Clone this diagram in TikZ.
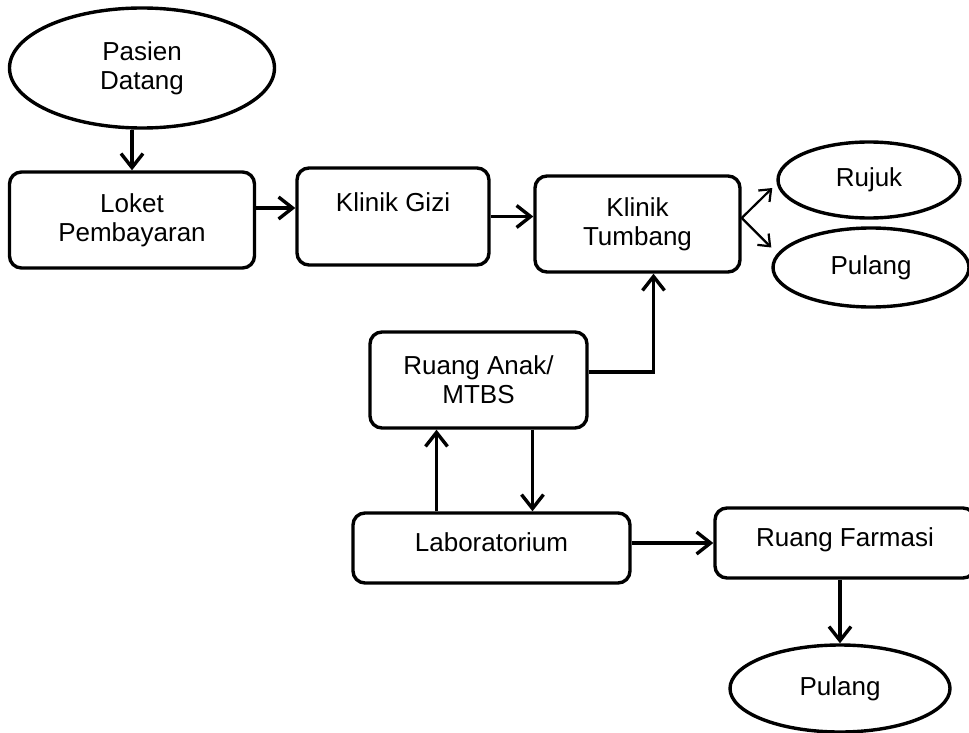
\documentclass[tikz,border=0pt]{standalone}
\usepackage{fontspec}
\setmainfont{Liberation Sans}
\usetikzlibrary{arrows.meta,shapes.geometric}

\begin{document}
\begin{tikzpicture}[x=0.5pt,y=-0.5pt,>={Straight Barb[length=7pt,width=11pt]},
                    line width=1.7pt,font=\fontsize{13}{14.5}\selectfont]
  \tikzstyle{box}=[draw,rectangle,rounded corners=6pt,align=center,inner sep=0pt]
  \tikzstyle{oval}=[draw,ellipse,align=center,inner sep=0pt]
  \useasboundingbox (0,0) rectangle (969,733);
  \clip (0,0) rectangle (969,733);

  \node[oval,minimum width=132.5pt,minimum height=60pt]   (datang)  at (142,68)    {Pasien\\Datang};
  \node[box,minimum width=122.5pt,minimum height=48pt]    (loket)   at (132,220)   {Loket\\Pembayaran};
  \node[box,minimum width=96pt,minimum height=48.5pt]     (gizi)    at (393,216.5) {Klinik Gizi\\\mbox{}};
  \node[box,minimum width=102.5pt,minimum height=48pt]    (tumbang) at (637.5,224) {Klinik\\Tumbang};
  \node[oval,minimum width=91pt,minimum height=38pt]      (rujuk)   at (869,180)   {Rujuk};
  \node[oval,minimum width=98pt,minimum height=39.5pt]    (pulang)  at (871,267.5) {Pulang};
  \node[box,minimum width=108.5pt,minimum height=48pt]    (anak)    at (478.5,380) {Ruang Anak/\\MTBS};
  \node[box,minimum width=138.5pt,minimum height=35pt,
        text height=9pt,text depth=6pt]                   (lab)     at (491.5,548) {Laboratorium};
  \node[box,minimum width=130pt,minimum height=35pt,
        text height=9pt,text depth=6pt]                   (farmasi) at (845,543)   {Ruang Farmasi};
  \node[oval,minimum width=110pt,minimum height=43.5pt]   (selesai) at (840,688.5) {Pulang};

  \draw[->] (datang.south -| loket.north) -- (loket.north);
  \draw[->] ([yshift=6pt]loket.east) -- ([yshift=6pt]loket.east -| gizi.west);
  \draw[->] (gizi.east) -- (gizi.east -| tumbang.west);
  \draw[->,line width=1.1pt,>={Straight Barb[length=5pt,width=8pt]}]
        ([yshift=3pt]tumbang.east) -- ([xshift=-2pt,yshift=-4pt]rujuk.west);
  \draw[->,line width=1.1pt,>={Straight Barb[length=5pt,width=8pt]}]
        ([yshift=3pt]tumbang.east) -- ([yshift=10pt]pulang.west);
  \draw[->] ([yshift=4pt]anak.east) -| ([xshift=8pt]tumbang.south);
  \draw[->] ([xshift=-21pt]anak.south |- lab.north) -- ([xshift=-21pt]anak.south);
  \draw[->] ([xshift=27pt]anak.south) -- ([xshift=27pt]anak.south |- lab.north);
  \draw[->] (lab.east |- farmasi.west) -- (farmasi.west);
  \draw[->] (farmasi.south -| selesai.north) -- (selesai.north);
\end{tikzpicture}
\end{document}
